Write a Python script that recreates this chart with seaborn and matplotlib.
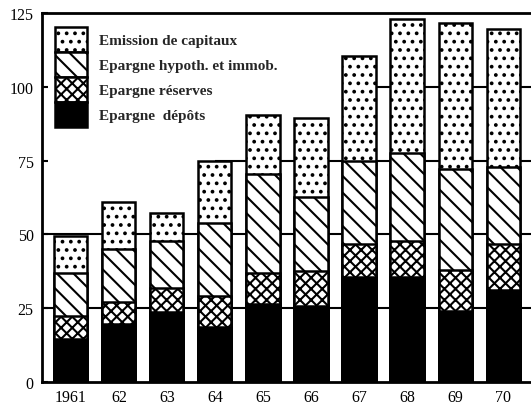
import numpy as np
import pandas as pd
import matplotlib
matplotlib.use("Agg")
import matplotlib.pyplot as plt
import seaborn as sns
from matplotlib.patches import Patch

years = ["1961", "62", "63", "64", "65", "66", "67", "68", "69", "70"]
depots = [14.5, 19.6, 23.6, 18.6, 26.4, 25.7, 35.4, 35.4, 24.0, 31.0]
reserves = [7.8, 7.4, 8.1, 10.4, 10.4, 11.8, 11.2, 12.2, 13.8, 15.9]
hypoth = [14.5, 18.2, 15.9, 24.7, 33.8, 25.3, 28.4, 30.1, 34.2, 26.1]
emission = [12.8, 15.8, 9.8, 21.0, 19.9, 26.7, 35.5, 45.3, 49.6, 46.6]
labels = ["Emission de capitaux", "Epargne hypoth. et immob.",
          "Epargne réserves", "Epargne  dépôts"]
yticks = [0, 25, 50, 75, 100, 125]

sns.set_style("white")
plt.rcParams["hatch.linewidth"] = 1.5
plt.rcParams["hatch.color"] = "black"

df = pd.DataFrame({"year": years, "depots": depots, "reserves": reserves,
                   "hypoth": hypoth, "emission": emission})
df["c1"] = df["depots"]
df["c2"] = df["c1"] + df["reserves"]
df["c3"] = df["c2"] + df["hypoth"]
df["c4"] = df["c3"] + df["emission"]

DOT, DIAG, CROSS = "..", "\\\\", "xxx"

fig = plt.figure(figsize=(5.31, 4.10), dpi=100)
ax = fig.add_axes([42 / 531, 27 / 410, 1 - 42 / 531, (383 - 14) / 410])

layers = [("c4", "white", DOT), ("c3", "white", DIAG),
          ("c2", "white", CROSS), ("c1", "black", None)]
for col, fc, h in layers:
    kw = dict(hatch=h) if h else {}
    sns.barplot(data=df, x="year", y=col, color=fc, edgecolor="black",
                linewidth=1.8, width=0.69, saturation=1, ax=ax,
                order=years, **kw)

ax.set_xlim(-0.6, 9.58)
ax.set_ylim(0, 125)
ax.set_yticks(yticks)
ax.set_xlabel("")
ax.set_ylabel("")
# horizontal reference lines run behind the bars, starting where bars reach them
for y, x0 in [(25, -0.6), (50, -0.6), (75, 3.0), (100, 6.0)]:
    ax.hlines(y, x0, 9.58, color="black", lw=1.5, zorder=0)
ax.set_axisbelow(True)

for s in ["left", "bottom", "top"]:
    ax.spines[s].set_visible(True)
    ax.spines[s].set_color("black")
    ax.spines[s].set_linewidth(2)
ax.spines["right"].set_visible(False)

ax.tick_params(axis="both", labelsize=11.5, colors="black")
ax.tick_params(axis="x", length=0, pad=5)
ax.tick_params(axis="y", direction="in", length=4, width=1.5, pad=6, left=True)
for t in ax.get_xticklabels() + ax.get_yticklabels():
    t.set_family(["Liberation Serif", "DejaVu Serif"])

handles = [Patch(facecolor="white", edgecolor="black", hatch=DOT, lw=1.8),
           Patch(facecolor="white", edgecolor="black", hatch=DIAG, lw=1.8),
           Patch(facecolor="white", edgecolor="black", hatch=CROSS, lw=1.8),
           Patch(facecolor="black", edgecolor="black", lw=1.8)]
leg = fig.legend(handles, labels, loc="upper left",
                 bbox_to_anchor=(55 / 531, 1 - 28 / 410),
                 frameon=False, borderpad=0, borderaxespad=0,
                 labelspacing=0, handleheight=2.14, handlelength=2.1,
                 handletextpad=0.75,
                 prop={"family": ["Liberation Serif", "DejaVu Serif"],
                       "weight": "bold", "size": 11})

fig.savefig("out.png", dpi=100)
